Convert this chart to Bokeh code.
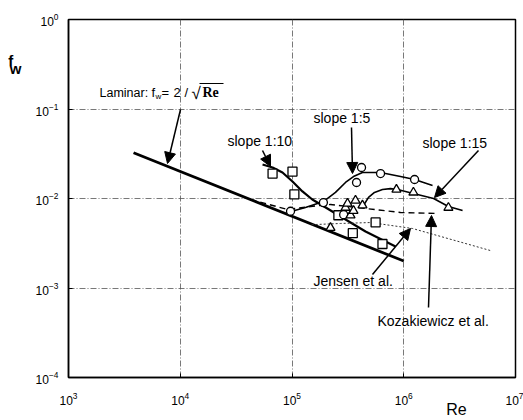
from bokeh.plotting import figure
from bokeh.models import (Label, Arrow, NormalHead, FixedTicker, LinearAxis,
                          CustomJSTickFormatter)
from bokeh.embed import file_html
from bokeh.resources import INLINE

# ---- data ----
x_ticks = [1e3, 1e4, 1e5, 1e6, 1e7]
y_ticks = [1e-4, 1e-3, 1e-2, 1e-1, 1e0]

lam_re = [3.82e3, 1.0e6]
lam_fw = [0.0324, 0.0020]

s10_re = [6.7e4, 1.01e5, 1.05e5, 2.6e5, 3.5e5, 5.6e5, 6.45e5]
s10_fw = [0.0190, 0.0200, 0.0111, 0.0065, 0.0041, 0.0054, 0.0031]

s5_re = [9.7e4, 1.91e5, 2.9e5, 3.78e5, 4.19e5, 6.2e5, 1.25e6]
s5_fw = [0.0072, 0.0090, 0.0066, 0.0151, 0.0222, 0.0190, 0.0163]

s15_re = [2.21e5, 3.01e5, 3.14e5, 3.34e5, 3.55e5, 3.7e5, 4.27e5, 8.6e5, 1.22e6, 2.51e6]
s15_fw = [0.0047, 0.0079, 0.0088, 0.0065, 0.0073, 0.0095, 0.0084, 0.0126, 0.0117, 0.0079]

c10_re = [5.45e4, 6.7e4, 8.22e4, 1.01e5, 1.24e5, 1.52e5, 1.87e5, 2.72e5, 4.55e5, 8.44e5]
c10_fw = [0.0240, 0.0222, 0.0195, 0.0155, 0.0120, 0.00975, 0.00835, 0.00629, 0.00428, 0.00291]

c5_re = [9.1e4, 1.32e5, 1.91e5, 2.45e5, 3.01e5, 3.55e5, 4.27e5, 6.19e5, 9.35e5, 1.25e6, 1.81e6]
c5_fw = [0.00698, 0.00793, 0.00925, 0.0117, 0.0151, 0.0176, 0.0195, 0.0195, 0.0176, 0.0163, 0.0140]

c15_re = [4.36e5, 4.84e5, 5.47e5, 6.45e5, 7.6e5, 8.79e5, 1.22e6, 1.85e6, 2.51e6, 3.36e6]
c15_fw = [0.00835, 0.0103, 0.0117, 0.0126, 0.0129, 0.0126, 0.0114, 0.0100, 0.00814, 0.00734]

koz_re = [4.26e4, 9.1e4, 1.47e5, 2.21e5, 4.55e5, 9.35e5, 2.0e6]
koz_fw = [0.00975, 0.00754, 0.00814, 0.00857, 0.00773, 0.00698, 0.0068]

jen_re = [1.5e5, 2.72e5, 5.04e5, 1.2e6, 5.97e6]
jen_fw = [0.0051, 0.00526, 0.00539, 0.00462, 0.00262]

# ---- helpers for annotation placement (page pixels -> data) ----
def X(px):
    return 10 ** (3 + (px - 68) / 111.75)

def Y(py):
    return 10 ** (-(py - 19) / 89.5)

FONT = "Liberation Sans"

p = figure(width=523, height=420, x_axis_type="log", y_axis_type="log",
           x_range=(1e3, 1e7), y_range=(1e-4, 1),
           output_backend="svg", toolbar_location=None,
           min_border_left=68, min_border_right=8, min_border_top=19, min_border_bottom=43)

xa = p.below[0]
ya = p.left[0]
xa.ticker = FixedTicker(ticks=x_ticks)
ya.ticker = FixedTicker(ticks=y_ticks)
p.xgrid.ticker = xa.ticker
p.ygrid.ticker = ya.ticker

p.background_fill_color = "white"
p.border_fill_color = "white"
p.outline_line_color = "black"
p.outline_line_width = 1.5
for ax in (xa, ya):
    ax.axis_line_color = "black"
    ax.axis_line_width = 1.5
    ax.major_tick_in = 4
    ax.major_tick_out = 0
    ax.minor_tick_in = 0
    ax.minor_tick_out = 0
    ax.major_tick_line_color = "black"
    ax.major_label_text_font = FONT
    ax.major_label_text_font_size = "12px"
    ax.major_label_text_color = "black"
xa.major_label_standoff = 14
ya.major_label_standoff = 10

p.grid.grid_line_color = "#555555"
p.grid.grid_line_dash = "6 2 1 2"
p.grid.grid_line_width = 0.8

# axis titles placed as extra label-only axes
fw_axis = LinearAxis(ticker=FixedTicker(ticks=[Y(60), Y(68)]),
                     formatter=CustomJSTickFormatter(code='return tick > 0.31 ? "f\u00a0\u00a0" : "w";'),
                     axis_line_color=None, major_tick_in=0, major_tick_out=0,
                     minor_tick_in=0, minor_tick_out=0,
                     major_label_standoff=11, major_label_text_font=FONT,
                     major_label_text_font_size="15px", major_label_text_font_style="bold",
                     major_label_text_color="black")
p.add_layout(fw_axis, "left")

re_axis = LinearAxis(ticker=FixedTicker(ticks=[X(456)]),
                     formatter=CustomJSTickFormatter(code='return "Re";'),
                     axis_line_color=None, major_tick_in=0, major_tick_out=0,
                     minor_tick_in=0, minor_tick_out=0,
                     major_label_standoff=-7, major_label_text_font=FONT,
                     major_label_text_font_size="16px", major_label_text_color="black")
p.add_layout(re_axis, "below")

# lines
p.line(lam_re, lam_fw, line_color="black", line_width=2.8)
p.line(c10_re, c10_fw, line_color="black", line_width=2.2)
p.line(c5_re, c5_fw, line_color="black", line_width=1.6)
p.line(c15_re, c15_fw, line_color="black", line_width=1.6)
p.line(koz_re, koz_fw, line_color="black", line_width=1.4, line_dash="6 4")
p.line(jen_re, jen_fw, line_color="#333333", line_width=1.0, line_dash="2 2")

# markers
p.scatter(s10_re, s10_fw, marker="square", size=9, fill_color="white", line_color="black", line_width=1.3)
p.scatter(s5_re, s5_fw, marker="circle", size=8, fill_color="white", line_color="black", line_width=1.3)
p.scatter(s15_re, s15_fw, marker="triangle", size=9, fill_color="white", line_color="black", line_width=1.3)

# arrows
def arrow(x0, y0, x1, y1, head=True, width=1.5):
    p.add_layout(Arrow(end=NormalHead(size=11, fill_color="black", line_color="black") if head else None,
                       x_start=X(x0), y_start=Y(y0), x_end=X(x1), y_end=Y(y1),
                       line_color="black", line_width=width))

arrow(180, 109, 167, 163)
arrow(262, 150, 270, 166)
arrow(351, 127, 352, 173)
arrow(478, 150, 434, 197)
arrow(372, 274, 410, 228)
arrow(428, 307, 431, 215)
arrow(199, 83, 223, 83, head=False, width=1.2)   # radical overline

# texts
def label(px, py, txt, size="14px", baseline="middle", font=FONT, style="normal"):
    p.add_layout(Label(x=X(px), y=Y(py), text=txt, text_font=font, text_font_size=size,
                       text_align="left", text_baseline=baseline, text_color="black",
                       text_font_style=style))

label(99, 92, "Laminar:", size="12.5px", baseline="alphabetic")
label(151, 92, "f", size="13px", baseline="alphabetic")
label(155, 96, "w", size="8px", baseline="alphabetic")
label(161, 92, "=", size="13px", baseline="alphabetic")
label(173, 92, "2", size="13px", baseline="alphabetic")
label(184, 92, "/", size="13px", baseline="alphabetic")
label(191, 93, "\u221a", size="17px", baseline="alphabetic")
label(202, 92, "Re", size="14px", baseline="alphabetic", font="Liberation Serif", style="bold")
label(227, 140, "slope 1:10")
label(313, 117, "slope 1:5")
label(422, 142, "slope 1:15")
label(313, 280, "Jensen et al.")
label(377, 320, "Kozakiewicz et al.")

open("out.html", "w").write(file_html(p, INLINE))
